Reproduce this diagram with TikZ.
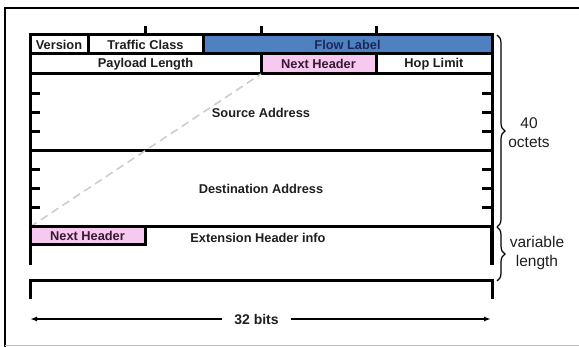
\documentclass[tikz,border=0pt]{standalone}
\usepackage{fontspec}
\setmainfont{Liberation Sans}
\usetikzlibrary{decorations.pathreplacing,arrows.meta}
\definecolor{flowblue}{RGB}{79,129,192}
\definecolor{flowtext}{RGB}{28,40,90}
\definecolor{nhpink}{RGB}{247,200,240}
\definecolor{nhtext}{RGB}{55,25,50}
\definecolor{txt}{RGB}{30,30,30}
\definecolor{dashgray}{RGB}{205,205,205}
\begin{document}
\begin{tikzpicture}[x=1pt,y=-1pt,
  field/.style={draw=black, line width=3pt, rectangle, inner sep=0pt, outer sep=0pt, anchor=north west,
    font=\fontsize{12.8}{14}\selectfont\bfseries, text=txt},
  plain/.style={inner sep=0pt, font=\fontsize{12.8}{14}\selectfont\bfseries, text=txt},
  frame/.style={line width=3pt, black},
  tickmark/.style={line width=3pt, black},
  bracestyle/.style={decorate, decoration={brace, amplitude=8pt}, line width=1.2pt, black},
  bracelabel/.style={align=center, font=\fontsize{15.5}{19}\selectfont, text=txt},
  dimarrow/.style={line width=1.5pt, black, -{Latex[length=7pt,width=5pt]}}
]
\useasboundingbox (0,0) rectangle (579,347);
% outer frame
\draw[line width=2.5pt] (5,347) -- (5,8) -- (579,8);
\draw[black!25, line width=1pt] (5,345.5) -- (579,345.5);

% top ticks
\foreach \x in {145.5,261,376.5} \draw[tickmark] (\x,26) -- (\x,35);

% header fields
\node[field, minimum width=58, minimum height=19] (ver) at (30,35) {Version};
\node[field, minimum width=115, minimum height=19] (tc) at (88,35) {Traffic Class};
\node[field, minimum width=289, minimum height=19, fill=flowblue, text=flowtext] (fl) at (203,35) {Flow Label};
\node[field, minimum width=231, minimum height=20] (pl) at (30,54) {Payload Length};
\node[field, minimum width=115, minimum height=20, fill=nhpink, text=nhtext] (nh) at (261,54) {Next Header};
\node[field, minimum width=116, minimum height=20] (hl) at (376,54) {Hop Limit};
\node[field, minimum width=462, minimum height=77] (src) at (30,74) {Source Address};
\node[field, minimum width=462, minimum height=76] (dst) at (30,151) {Destination Address};

% dashed link
\draw[dashgray, line width=1.6pt, dash pattern=on 8pt off 5pt] (dst.south west) -- (nh.south west);

% extension header
\node[field, minimum width=115, minimum height=18, fill=nhpink, text=nhtext] (nh2) at (30,227) {Next Header};
\node[plain] (ext) at (258,237.5) {Extension Header info};
\coordinate (extL) at (30,265);
\coordinate (extR) at (492,265);
\draw[frame] (dst.south west) -- (extL);
\draw[line width=3.5pt] (dst.south east) -- (extR);

% bottom bracket
\draw[frame] (30,299) -- (30,281) -- (492,281) -- (492,299);

% side ticks
\foreach \y in {93.25,112.5,131.75,170,189,208} {
  \draw[tickmark] (30,\y) -- (40,\y);
  \draw[tickmark] (482,\y) -- (492,\y);
}

% braces
\draw[bracestyle] (497,35) -- (497,227);
\draw[bracestyle] (497,227) -- (497,281);
\node[bracelabel] (oct) at (529,132.5) {40\\octets};
\node[bracelabel] (var) at (537,253) {variable\\length};

% 32 bits
\node[inner ysep=0pt, inner xsep=12pt, font=\fontsize{14}{16}\selectfont\bfseries, text=txt] (bits) at (256.5,320) {32 bits};
\coordinate (aL) at (30,319);
\coordinate (aR) at (491,319);
\draw[dimarrow] (bits.west |- aL) -- (aL);
\draw[dimarrow] (bits.east |- aR) -- (aR);
\end{tikzpicture}
\end{document}
